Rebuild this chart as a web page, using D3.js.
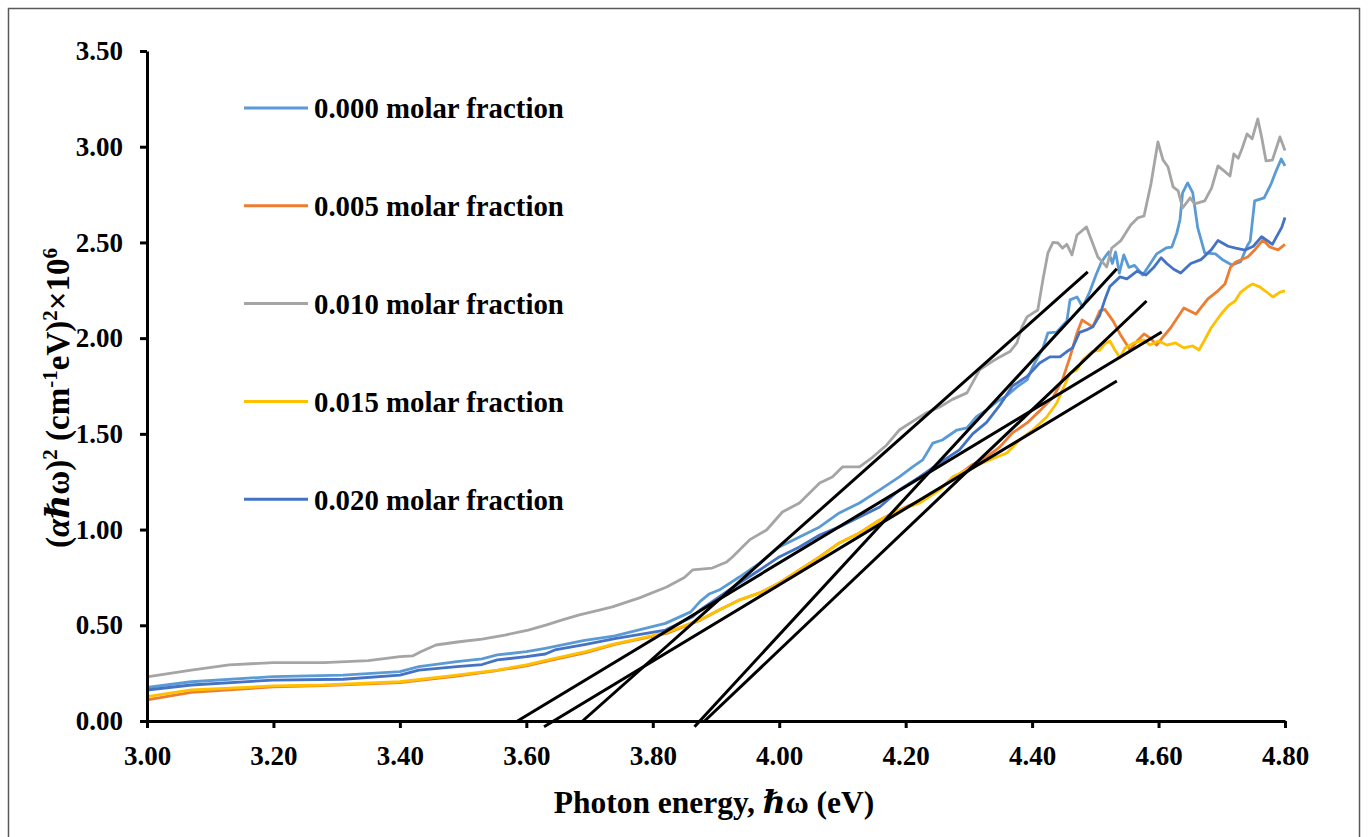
<!DOCTYPE html>
<html>
<head>
<meta charset="utf-8">
<script src="https://cdn.jsdelivr.net/npm/d3@7"></script>
<style>
  body { margin: 0; background: #fff; }
  svg { display: block; font-family: "Liberation Serif", "Times New Roman", "DejaVu Serif", serif; font-weight: bold; }
</style>
</head>
<body>
<div id="chart"></div>
<script>
// (E in eV, (alpha h-bar omega)^2 x 10^6)
const s000 = [[3.00,0.175],[3.07,0.205],[3.20,0.232],[3.31,0.240],[3.40,0.258],[3.43,0.284],[3.49,0.310],[3.53,0.325],[3.554,0.345],[3.60,0.362],[3.63,0.380],[3.69,0.420],[3.74,0.445],[3.82,0.510],[3.86,0.570],[3.875,0.625],[3.89,0.665],[3.905,0.684],[3.937,0.752],[3.969,0.825],[4.00,0.909],[4.032,0.961],[4.064,1.014],[4.095,1.087],[4.127,1.139],[4.159,1.207],[4.19,1.275],[4.211,1.327],[4.227,1.364],[4.243,1.452],[4.258,1.468],[4.281,1.520],[4.297,1.531],[4.312,1.590],[4.328,1.625],[4.344,1.667],[4.36,1.700],[4.376,1.745],[4.392,1.782],[4.401,1.850],[4.417,1.949],[4.425,2.027],[4.439,2.032],[4.455,2.090],[4.46,2.200],[4.471,2.215],[4.48,2.163],[4.491,2.241],[4.501,2.330],[4.51,2.400],[4.521,2.450],[4.527,2.390],[4.532,2.450],[4.538,2.340],[4.545,2.435],[4.553,2.370],[4.562,2.380],[4.575,2.330],[4.585,2.380],[4.597,2.440],[4.612,2.471],[4.621,2.476],[4.629,2.550],[4.634,2.620],[4.638,2.759],[4.646,2.811],[4.654,2.760],[4.662,2.576],[4.673,2.445],[4.69,2.440],[4.702,2.408],[4.716,2.382],[4.73,2.400],[4.74,2.480],[4.745,2.508],[4.752,2.717],[4.767,2.733],[4.778,2.806],[4.786,2.874],[4.794,2.936],[4.80,2.900]];

const s005 = [[3.00,0.110],[3.07,0.150],[3.20,0.178],[3.28,0.185],[3.40,0.200],[3.49,0.235],[3.55,0.262],[3.60,0.288],[3.645,0.322],[3.694,0.357],[3.74,0.400],[3.822,0.458],[3.874,0.525],[3.905,0.580],[3.937,0.632],[3.969,0.669],[4.00,0.721],[4.032,0.789],[4.064,0.857],[4.095,0.930],[4.127,0.982],[4.159,1.050],[4.19,1.102],[4.222,1.150],[4.254,1.215],[4.285,1.290],[4.306,1.340],[4.322,1.364],[4.349,1.432],[4.369,1.505],[4.392,1.557],[4.412,1.620],[4.433,1.690],[4.448,1.782],[4.46,1.902],[4.471,2.027],[4.479,2.095],[4.486,2.080],[4.496,2.059],[4.507,2.142],[4.515,2.150],[4.528,2.090],[4.539,2.022],[4.55,1.964],[4.555,1.938],[4.566,1.985],[4.577,2.022],[4.587,2.000],[4.597,1.964],[4.608,2.010],[4.619,2.053],[4.64,2.158],[4.659,2.126],[4.678,2.205],[4.694,2.247],[4.705,2.283],[4.714,2.372],[4.722,2.398],[4.741,2.424],[4.752,2.460],[4.765,2.513],[4.776,2.476],[4.789,2.461],[4.80,2.490]];

const s010 = [[3.00,0.231],[3.07,0.266],[3.13,0.293],[3.20,0.305],[3.28,0.305],[3.35,0.315],[3.40,0.336],[3.42,0.340],[3.433,0.362],[3.457,0.397],[3.494,0.414],[3.53,0.428],[3.566,0.449],[3.603,0.475],[3.632,0.502],[3.657,0.528],[3.684,0.554],[3.717,0.580],[3.736,0.596],[3.779,0.643],[3.822,0.700],[3.85,0.750],[3.863,0.789],[3.894,0.799],[3.917,0.831],[3.926,0.857],[3.953,0.946],[3.98,0.998],[4.005,1.092],[4.032,1.139],[4.064,1.243],[4.084,1.275],[4.10,1.327],[4.127,1.327],[4.148,1.379],[4.17,1.442],[4.19,1.520],[4.211,1.565],[4.233,1.610],[4.254,1.640],[4.274,1.680],[4.297,1.714],[4.317,1.834],[4.333,1.870],[4.349,1.902],[4.365,1.930],[4.376,1.975],[4.384,2.059],[4.392,2.111],[4.409,2.147],[4.417,2.304],[4.425,2.445],[4.433,2.500],[4.441,2.497],[4.448,2.470],[4.455,2.490],[4.463,2.435],[4.471,2.539],[4.486,2.581],[4.504,2.424],[4.518,2.372],[4.526,2.471],[4.54,2.508],[4.556,2.591],[4.567,2.628],[4.577,2.638],[4.588,2.806],[4.599,3.025],[4.607,2.931],[4.615,2.894],[4.623,2.790],[4.631,2.769],[4.638,2.680],[4.65,2.733],[4.657,2.701],[4.673,2.717],[4.684,2.785],[4.694,2.900],[4.705,2.870],[4.713,2.847],[4.719,2.962],[4.726,2.940],[4.732,2.989],[4.74,3.067],[4.748,3.041],[4.757,3.145],[4.763,3.051],[4.77,2.926],[4.78,2.930],[4.792,3.051],[4.80,2.980]];

const s015 = [[3.00,0.127],[3.07,0.162],[3.20,0.183],[3.28,0.188],[3.40,0.205],[3.49,0.240],[3.554,0.266],[3.60,0.293],[3.645,0.327],[3.694,0.362],[3.736,0.400],[3.822,0.462],[3.874,0.528],[3.905,0.580],[3.937,0.632],[3.969,0.669],[4.00,0.721],[4.032,0.789],[4.064,0.857],[4.095,0.930],[4.127,0.982],[4.159,1.050],[4.19,1.102],[4.222,1.139],[4.254,1.207],[4.274,1.275],[4.306,1.327],[4.333,1.364],[4.36,1.400],[4.38,1.468],[4.401,1.520],[4.423,1.588],[4.439,1.661],[4.448,1.729],[4.46,1.818],[4.471,1.834],[4.48,1.886],[4.495,1.930],[4.507,1.938],[4.515,1.970],[4.523,1.985],[4.531,1.938],[4.539,1.897],[4.547,1.949],[4.561,1.975],[4.577,1.991],[4.586,1.964],[4.60,1.985],[4.613,1.964],[4.627,1.975],[4.64,1.949],[4.654,1.959],[4.664,1.938],[4.672,1.985],[4.683,2.053],[4.699,2.126],[4.71,2.168],[4.721,2.194],[4.73,2.241],[4.741,2.268],[4.749,2.283],[4.76,2.268],[4.771,2.241],[4.781,2.215],[4.792,2.240],[4.80,2.247]];

const s020 = [[3.00,0.162],[3.07,0.188],[3.20,0.214],[3.31,0.218],[3.40,0.240],[3.43,0.266],[3.49,0.284],[3.53,0.295],[3.554,0.319],[3.60,0.336],[3.63,0.350],[3.645,0.371],[3.694,0.400],[3.74,0.430],[3.82,0.475],[3.863,0.545],[3.875,0.580],[3.905,0.648],[3.937,0.721],[3.969,0.789],[4.00,0.857],[4.032,0.909],[4.064,0.972],[4.095,1.014],[4.127,1.066],[4.159,1.118],[4.19,1.207],[4.222,1.275],[4.254,1.348],[4.285,1.416],[4.306,1.500],[4.328,1.560],[4.349,1.650],[4.369,1.750],[4.392,1.800],[4.412,1.870],[4.428,1.902],[4.444,1.902],[4.455,1.930],[4.464,1.949],[4.475,2.030],[4.486,2.043],[4.496,2.059],[4.507,2.120],[4.515,2.200],[4.523,2.270],[4.539,2.320],[4.55,2.310],[4.566,2.350],[4.58,2.330],[4.593,2.372],[4.604,2.420],[4.613,2.390],[4.624,2.360],[4.635,2.340],[4.651,2.390],[4.667,2.410],[4.683,2.460],[4.694,2.510],[4.71,2.480],[4.722,2.470],[4.737,2.460],[4.75,2.480],[4.763,2.530],[4.78,2.490],[4.795,2.580],[4.80,2.630]];

const seriesNames = ["0.000 molar fraction", "0.005 molar fraction", "0.010 molar fraction", "0.015 molar fraction", "0.020 molar fraction"];
const seriesData = [s000, s005, s010, s015, s020];
const seriesColors = ["#5B9BD5", "#ED7D31", "#A5A5A5", "#FFC000", "#4472C4"];

// linear fits drawn for the band gap
const tangents = [
  [[3.689, 0.0], [4.488, 2.346]],
  [[3.866, -0.03], [4.534, 2.362]],
  [[3.882, 0.0], [4.581, 2.194]],
  [[3.586, 0.0], [4.605, 2.032]],
  [[3.628, -0.03], [4.534, 1.776]]
];

const xTicks = [3.0, 3.2, 3.4, 3.6, 3.8, 4.0, 4.2, 4.4, 4.6, 4.8];
const yTicks = [0, 0.5, 1.0, 1.5, 2.0, 2.5, 3.0, 3.5];

const W = 1368, H = 837;
const svg = d3.select("#chart").append("svg").attr("width", W).attr("height", H);

svg.append("rect")
  .attr("x", 8.5).attr("y", 8.5)
  .attr("width", 1351).attr("height", 850)
  .attr("fill", "#fff").attr("stroke", "#595959").attr("stroke-width", 1.5);

const x = d3.scaleLinear().domain([3.0, 4.8]).range([147, 1285]);
const y = d3.scaleLinear().domain([0, 3.5]).range([721, 51]);

const line = d3.line().x((d) => x(d[0])).y((d) => y(d[1]));

// series
svg.append("g")
  .selectAll("path")
  .data(seriesData)
  .join("path")
  .attr("d", line)
  .attr("fill", "none")
  .attr("stroke", (d, i) => seriesColors[i])
  .attr("stroke-width", 2.8)
  .attr("stroke-linejoin", "round");

// tangent lines
svg.append("g")
  .selectAll("path")
  .data(tangents)
  .join("path")
  .attr("d", line)
  .attr("stroke", "#000")
  .attr("stroke-width", 3);

// axes
const xAxis = svg.append("g")
  .attr("transform", `translate(0,${y(0)})`)
  .call(d3.axisBottom(x).tickValues(xTicks).tickSize(7).tickSizeOuter(0).tickPadding(18).tickFormat(d3.format(".2f")));

const yAxis = svg.append("g")
  .attr("transform", `translate(${x(3.0)},0)`)
  .call(d3.axisLeft(y).tickValues(yTicks).tickSize(7).tickSizeOuter(0).tickPadding(17).tickFormat(d3.format(".2f")));

[xAxis, yAxis].forEach((a) => {
  a.select(".domain").attr("stroke", "#000").attr("stroke-width", 3);
  a.selectAll(".tick line").attr("stroke", "#000").attr("stroke-width", 3);
  a.selectAll(".tick text")
    .attr("fill", "#000")
    .style("font-family", "'Liberation Serif', 'Times New Roman', serif")
    .style("font-weight", "bold")
    .style("font-size", "27px");
});

// axis titles
const xt = svg.append("text")
  .attr("x", 714).attr("y", 813)
  .attr("text-anchor", "middle")
  .style("font-size", "31.5px");
xt.append("tspan").text("Photon energy, ");
xt.append("tspan").style("font-style", "italic").text("ℏ");
xt.append("tspan").text("ω (eV)");

const yt = svg.append("text")
  .attr("transform", "translate(69,398) rotate(-90)")
  .attr("text-anchor", "middle")
  .style("font-size", "33px");
yt.append("tspan").text("(");
yt.append("tspan").style("font-style", "italic").text("αℏ");
yt.append("tspan").text("ω)");
yt.append("tspan").attr("dy", -12).style("font-size", "21px").text("2");
yt.append("tspan").attr("dy", 12).text(" (cm");
yt.append("tspan").attr("dy", -12).style("font-size", "21px").text("-1");
yt.append("tspan").attr("dy", 12).text("eV)");
yt.append("tspan").attr("dy", -12).style("font-size", "21px").text("2");
yt.append("tspan").attr("dy", 12).text("×10");
yt.append("tspan").attr("dy", -12).style("font-size", "21px").text("6");

// legend
const legend = svg.append("g");
seriesNames.forEach((name, i) => {
  const row = legend.append("g").attr("transform", `translate(244,${108 + i * 97.8})`);
  row.append("line")
    .attr("x1", 0).attr("x2", 64)
    .attr("stroke", seriesColors[i]).attr("stroke-width", 3);
  row.append("text")
    .attr("x", 70).attr("dy", "0.36em")
    .style("font-size", "28.8px")
    .text(name);
});
</script>
</body>
</html>
